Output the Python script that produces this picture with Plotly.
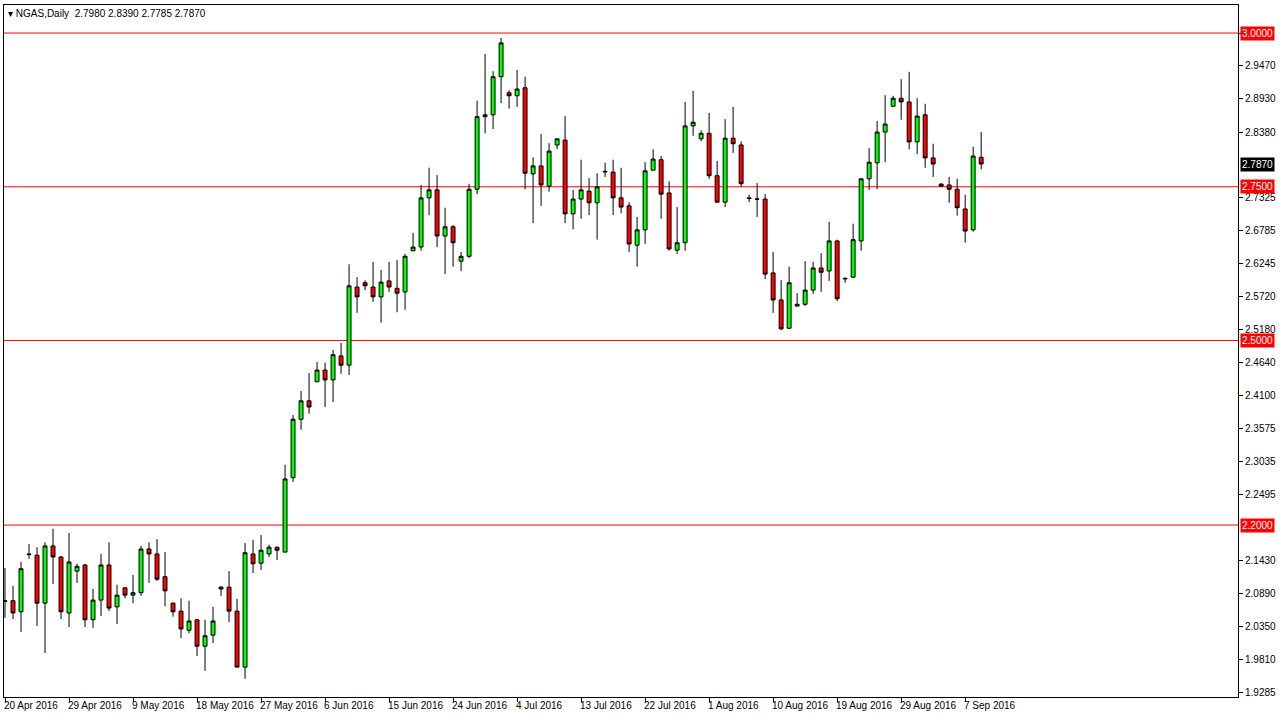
import datetime as dt
import plotly.graph_objects as go

# daily bars (MT4 style, Sunday bars included)
opens = [2.077, 2.077, 2.059, 2.153, 2.151, 2.073, 2.166, 2.148, 2.057, 2.125, 2.135, 2.046, 2.078, 2.135, 2.067, 2.098,
         2.086, 2.090, 2.161, 2.153, 2.116, 2.073, 2.060, 2.029, 2.046, 2.003, 2.021, 2.096, 2.099, 2.060, 1.969, 2.153,
         2.138, 2.153, 2.164, 2.156, 2.277, 2.372, 2.402, 2.433, 2.452, 2.436, 2.475, 2.460, 2.587, 2.594, 2.587, 2.571,
         2.597, 2.585, 2.579, 2.646, 2.652, 2.732, 2.745, 2.670, 2.685, 2.629, 2.637, 2.746, 2.864, 2.867, 2.929, 2.903,
         2.898, 2.911, 2.771, 2.784, 2.751, 2.818, 2.826, 2.706, 2.730, 2.743, 2.724, 2.774, 2.774, 2.732, 2.719, 2.655,
         2.680, 2.777, 2.794, 2.740, 2.647, 2.659, 2.849, 2.828, 2.837, 2.768, 2.725, 2.829, 2.818, 2.732, 2.730, 2.730,
         2.610, 2.566, 2.520, 2.556, 2.559, 2.582, 2.618, 2.613, 2.662, 2.600, 2.603, 2.662, 2.763, 2.789, 2.839, 2.881,
         2.894, 2.888, 2.823, 2.867, 2.797, 2.7545, 2.753, 2.746, 2.714, 2.680, 2.798]
highs = [2.130, 2.101, 2.140, 2.169, 2.164, 2.172, 2.194, 2.150, 2.187, 2.137, 2.137, 2.096, 2.153, 2.172, 2.103, 2.098,
         2.119, 2.166, 2.172, 2.177, 2.156, 2.074, 2.081, 2.077, 2.047, 2.046, 2.067, 2.101, 2.125, 2.080, 2.171, 2.176,
         2.184, 2.168, 2.165, 2.298, 2.379, 2.418, 2.447, 2.465, 2.464, 2.485, 2.496, 2.624, 2.603, 2.598, 2.628, 2.615,
         2.628, 2.631, 2.641, 2.675, 2.753, 2.781, 2.769, 2.716, 2.688, 2.644, 2.755, 2.890, 2.966, 2.938, 2.992, 2.907,
         2.940, 2.929, 2.798, 2.836, 2.821, 2.828, 2.865, 2.745, 2.794, 2.764, 2.772, 2.789, 2.794, 2.781, 2.725, 2.701,
         2.790, 2.811, 2.800, 2.759, 2.717, 2.888, 2.906, 2.842, 2.870, 2.792, 2.860, 2.880, 2.824, 2.737, 2.756, 2.738,
         2.644, 2.598, 2.620, 2.577, 2.629, 2.628, 2.642, 2.693, 2.664, 2.603, 2.690, 2.763, 2.813, 2.857, 2.899, 2.898,
         2.925, 2.937, 2.894, 2.885, 2.820, 2.755, 2.766, 2.763, 2.737, 2.815, 2.839]
lows = [2.049, 2.047, 2.026, 2.145, 2.036, 1.992, 2.104, 2.047, 2.034, 2.106, 2.034, 2.033, 2.052, 2.060, 2.039, 2.081,
        2.073, 2.085, 2.106, 2.109, 2.068, 2.051, 2.016, 2.024, 1.987, 1.963, 2.008, 2.085, 2.042, 1.969, 1.950, 2.122,
        2.127, 2.148, 2.143, 2.156, 2.270, 2.355, 2.381, 2.433, 2.392, 2.400, 2.446, 2.444, 2.545, 2.582, 2.563, 2.529,
        2.579, 2.546, 2.550, 2.646, 2.646, 2.704, 2.652, 2.608, 2.620, 2.613, 2.634, 2.738, 2.837, 2.844, 2.886, 2.877,
        2.880, 2.746, 2.691, 2.719, 2.742, 2.811, 2.691, 2.681, 2.698, 2.704, 2.664, 2.766, 2.704, 2.707, 2.644, 2.620,
        2.657, 2.777, 2.698, 2.646, 2.641, 2.646, 2.833, 2.824, 2.763, 2.724, 2.717, 2.805, 2.750, 2.725, 2.701, 2.600,
        2.545, 2.517, 2.519, 2.556, 2.556, 2.576, 2.579, 2.597, 2.564, 2.594, 2.602, 2.646, 2.745, 2.746, 2.790, 2.880,
        2.859, 2.811, 2.803, 2.781, 2.766, 2.751, 2.724, 2.703, 2.659, 2.677, 2.7785]
closes = [2.076, 2.057, 2.129, 2.152, 2.073, 2.166, 2.148, 2.059, 2.140, 2.133, 2.046, 2.078, 2.135, 2.065, 2.086, 2.086,
          2.090, 2.161, 2.153, 2.112, 2.093, 2.059, 2.031, 2.044, 2.003, 2.020, 2.044, 2.099, 2.060, 1.969, 2.155, 2.137,
          2.159, 2.164, 2.159, 2.275, 2.372, 2.402, 2.392, 2.452, 2.436, 2.477, 2.460, 2.589, 2.571, 2.589, 2.571, 2.595,
          2.587, 2.577, 2.637, 2.652, 2.732, 2.745, 2.670, 2.685, 2.659, 2.637, 2.746, 2.864, 2.867, 2.929, 2.984, 2.898,
          2.909, 2.772, 2.784, 2.753, 2.808, 2.828, 2.706, 2.730, 2.745, 2.724, 2.750, 2.775, 2.732, 2.717, 2.657, 2.680,
          2.776, 2.795, 2.738, 2.649, 2.659, 2.849, 2.855, 2.837, 2.768, 2.725, 2.829, 2.820, 2.755, 2.731, 2.730, 2.608,
          2.566, 2.519, 2.594, 2.559, 2.582, 2.618, 2.611, 2.662, 2.568, 2.601, 2.664, 2.763, 2.790, 2.839, 2.852, 2.894,
          2.888, 2.823, 2.865, 2.797, 2.787, 2.751, 2.746, 2.716, 2.678, 2.800, 2.787]

date_labels = ["20 Apr 2016", "29 Apr 2016", "9 May 2016", "18 May 2016", "27 May 2016", "6 Jun 2016",
               "15 Jun 2016", "24 Jun 2016", "4 Jul 2016", "13 Jul 2016", "22 Jul 2016", "1 Aug 2016",
               "10 Aug 2016", "19 Aug 2016", "29 Aug 2016", "7 Sep 2016"]
price_ticks = [3.0000, 2.9470, 2.8930, 2.8380, 2.7325, 2.6785, 2.6245, 2.5720, 2.5180, 2.4640, 2.4100,
               2.3575, 2.3035, 2.2495, 2.1430, 2.0890, 2.0350, 1.9810, 1.9285]
levels = [3.0, 2.75, 2.5, 2.2]
last_price = 2.7870

FONT = "Liberation Sans"

# bar dates: skip Saturdays (broker has Sunday bars)
dates = []
d = dt.date(2016, 4, 20)
while len(dates) < len(opens):
    if d.weekday() != 5:
        dates.append(d)
    d += dt.timedelta(days=1)
idx = list(range(len(opens)))

fig = go.Figure(go.Candlestick(
    x=idx, open=opens, high=highs, low=lows, close=closes,
    increasing=dict(fillcolor="#00FF00", line=dict(color="black", width=1)),
    decreasing=dict(fillcolor="#FF0000", line=dict(color="black", width=1)),
    whiskerwidth=0, hoverinfo="x+y", text=[str(x) for x in dates],
))

shapes = []
for lv in levels:
    shapes.append(dict(type="line", xref="paper", x0=0, x1=1, y0=lv, y1=lv,
                       line=dict(color="#FF0000", width=1), layer="below"))

annots = []
for lv in levels:
    annots.append(dict(xref="paper", x=1, xanchor="left", xshift=2, y=lv, yanchor="middle",
                       text=f"{lv:.4f}", showarrow=False, bgcolor="#FF0000", borderpad=1,
                       font=dict(color="white", size=10, family=FONT)))
annots.append(dict(xref="paper", x=1, xanchor="left", xshift=2, y=last_price, yanchor="middle",
                   text=f"{last_price:.4f}", showarrow=False, bgcolor="black", borderpad=1,
                   font=dict(color="white", size=10, family=FONT)))
for i, lab in enumerate(date_labels):
    annots.append(dict(x=i * 8, xanchor="left", xshift=-3, yref="paper", y=0, yanchor="top", yshift=-1,
                       text=lab, showarrow=False,
                       font=dict(color="black", size=10, family=FONT)))
annots.append(dict(xref="paper", x=0, xanchor="left", xshift=2, yref="paper", y=1, yanchor="top", yshift=-1,
                   text=f"\u25BE NGAS,Daily  {opens[-1]:.4f} {highs[-1]:.4f} {lows[-1]:.4f} {closes[-1]:.4f}",
                   showarrow=False, font=dict(color="black", size=10, family=FONT)))

# levels carry their own boxed label, so blank those tick texts
tick_text = ["" if t in levels else f"{t:.4f}" for t in price_ticks]

fig.update_layout(
    width=1283, height=719,
    margin=dict(l=4, r=45, t=5, b=22),
    paper_bgcolor="white", plot_bgcolor="white",
    showlegend=False, shapes=shapes, annotations=annots,
    xaxis=dict(range=[-0.125, 154.1], rangeslider=dict(visible=False), showgrid=False, zeroline=False,
               tickvals=[i * 8 for i in range(len(date_labels))], ticktext=[""] * len(date_labels),
               ticks="outside", ticklen=4, tickcolor="black",
               showline=True, linecolor="black", mirror=True),
    yaxis=dict(range=[1.9204, 3.0456], side="right", showgrid=False, zeroline=False,
               tickvals=price_ticks, ticktext=tick_text,
               ticks="outside", ticklen=4, tickcolor="black",
               tickfont=dict(size=10, family=FONT, color="black"),
               showline=True, linecolor="black", mirror=True),
)

fig.write_html("out.html", config={"displayModeBar": False},
               post_script="document.body.style.margin='0';document.body.style.overflow='hidden';")
